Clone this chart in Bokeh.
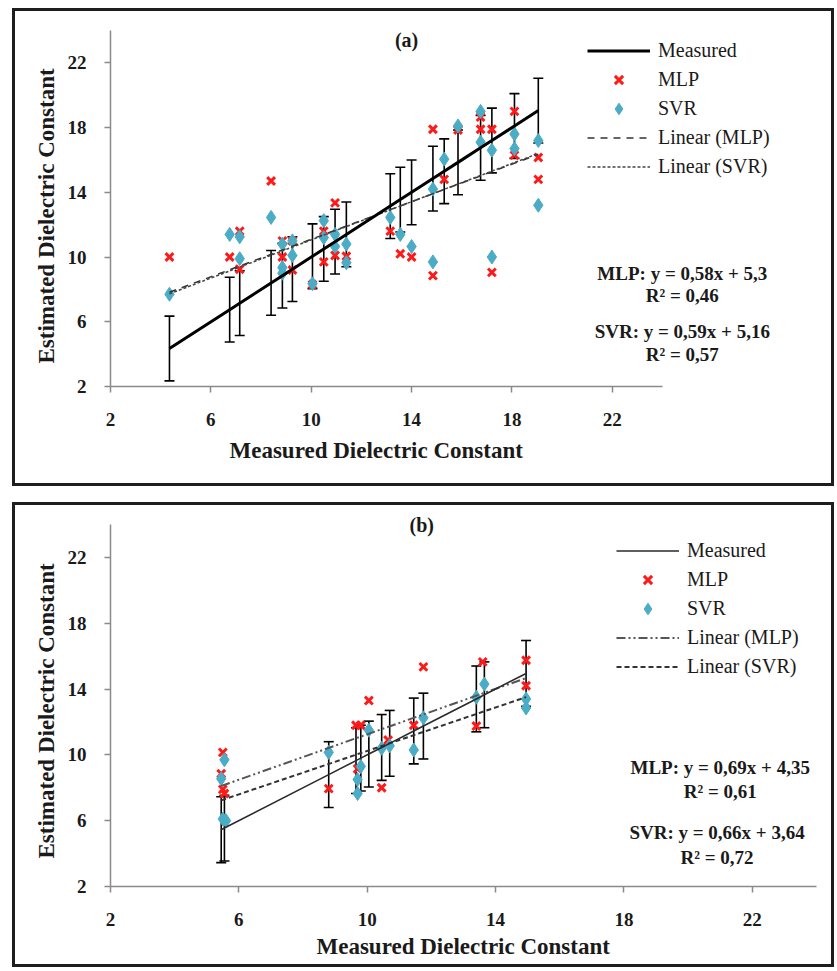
from bokeh.plotting import figure
from bokeh.models import (Range1d, FixedTicker, Whisker, TeeHead, ColumnDataSource,
                          Legend, LegendItem, Label, Spacer, Title)
from bokeh.layouts import column
from bokeh.embed import file_html
from bokeh.resources import INLINE

# ---------------- data ----------------
TICKS = [2, 6, 10, 14, 18, 22]
AXIS_MIN, AXIS_MAX = 2, 24
MEAS_ERR = 2.0
X_LABEL = "Measured Dielectric  Constant"
Y_LABEL = "Estimated Dielectric  Constant"

# panel (a)
A_MEASURED = [4.35, 6.75, 7.15, 8.4, 8.85, 9.25, 10.05, 10.5, 10.95, 11.4,
              13.15, 13.55, 14.0, 14.85, 15.3, 15.85, 16.75, 17.2, 18.1, 19.05]
A_MLP_X = [4.35, 6.75, 7.15, 7.15, 8.4, 8.85, 8.85, 9.25, 9.25, 10.05, 10.5, 10.5,
           10.95, 10.95, 11.4, 13.15, 13.55, 14.0, 14.85, 14.85, 15.3, 15.85,
           16.75, 16.75, 17.2, 17.2, 18.1, 18.1, 19.05, 19.05]
A_MLP_Y = [10.0, 10.0, 11.6, 9.25, 14.7, 11.0, 10.0, 11.0, 9.2, 8.3, 11.6, 9.7,
           13.35, 10.1, 10.05, 11.6, 10.2, 10.0, 17.9, 8.85, 14.8, 17.85,
           18.65, 17.9, 17.9, 9.05, 19.0, 16.3, 16.15, 14.8]
A_SVR_X = [4.35, 6.75, 7.15, 7.15, 8.4, 8.85, 8.85, 8.85, 9.25, 9.25, 10.05, 10.5,
           10.5, 10.95, 10.95, 11.4, 11.4, 13.15, 13.55, 14.0, 14.85, 14.85, 15.3,
           15.85, 16.75, 16.75, 17.2, 17.2, 18.1, 18.1, 19.05, 19.05]
A_SVR_Y = [7.7, 11.4, 11.25, 9.9, 12.45, 10.8, 9.35, 9.0, 11.0, 10.1, 8.35, 12.25,
           11.2, 11.4, 10.65, 10.8, 9.65, 12.45, 11.4, 10.65, 14.2, 9.7, 16.05,
           18.1, 19.0, 17.1, 16.6, 10.0, 17.6, 16.7, 17.2, 13.2]
A_FIT = {"MLP": (0.58, 5.3), "SVR": (0.59, 5.16)}
A_EQ = ["MLP: y = 0,58x + 5,3", "R² = 0,46", "SVR: y = 0,59x + 5,16", "R² = 0,57"]

# panel (b)
B_MEASURED = [5.45, 5.55, 8.8, 9.65, 9.8, 10.05, 10.45, 10.7, 11.45, 11.75,
              13.4, 13.65, 14.95]
B_MLP_X = [5.5, 5.45, 5.5, 5.55, 8.8, 9.65, 9.8, 9.7, 10.05, 10.45, 10.65, 11.45,
           11.75, 13.4, 13.6, 14.95, 14.95]
B_MLP_Y = [10.15, 8.85, 7.9, 7.65, 7.95, 11.8, 11.8, 9.15, 13.3, 8.0, 10.9, 11.8,
           15.35, 11.75, 15.65, 15.75, 14.2]
B_SVR_X = [5.55, 5.45, 5.5, 5.6, 8.8, 9.7, 9.7, 9.8, 10.05, 10.45, 10.7, 11.45,
           11.75, 13.4, 13.65, 14.95, 14.95]
B_SVR_Y = [9.7, 8.55, 6.1, 6.0, 10.15, 8.5, 7.65, 9.3, 11.5, 10.4, 10.55, 10.3,
           12.25, 13.5, 14.3, 13.4, 12.85]
B_FIT = {"MLP": (0.69, 4.35), "SVR": (0.66, 3.64)}
B_EQ = ["MLP: y = 0,69x + 4,35", "R² = 0,61", "SVR: y = 0,66x + 3,64", "R² = 0,72"]

LEGEND_LABELS = ["Measured", "MLP", "SVR", "Linear (MLP)", "Linear (SVR)"]

FONT = "Liberation Serif"
RED = "#ff1a1a"
CYAN = "#4bacc6"
CANVAS_W = 822


def make_panel(tag, measured, mlp_x, mlp_y, svr_x, svr_y, fit, eq,
               height, borders, axis_px, legend_loc, title_xy, eq_xy,
               xlabel_offset, xlabel_standoff, ylabel_offset):
    bl, br, bt, bb = borders
    frame_w = CANVAS_W - bl - br
    frame_h = height - bt - bb
    span = AXIS_MAX - AXIS_MIN
    x_end = AXIS_MIN + span * frame_w / axis_px[0]
    y_end = AXIS_MIN + span * frame_h / axis_px[1]
    p = figure(width=CANVAS_W, height=height, output_backend="svg", toolbar_location=None,
               x_range=Range1d(AXIS_MIN, x_end), y_range=Range1d(AXIS_MIN, y_end),
               min_border_left=bl, min_border_right=br,
               min_border_top=bt, min_border_bottom=bb)
    p.styles = {"border": "3px solid #1e1e1e", "margin-left": "12px"}
    p.grid.visible = False
    p.outline_line_color = None
    p.background_fill_color = "white"
    p.border_fill_color = "white"
    for ax in (p.xaxis[0], p.yaxis[0]):
        ax.ticker = FixedTicker(ticks=TICKS)
        ax.bounds = (AXIS_MIN, AXIS_MAX)
        ax.axis_line_color = "#8a8a8a"
        ax.axis_line_width = 1.5
        ax.major_tick_line_color = "#8a8a8a"
        ax.major_tick_line_width = 1.5
        ax.major_tick_out = 6
        ax.major_tick_in = 0
        ax.minor_tick_line_color = None
        ax.major_label_text_font = FONT
        ax.major_label_text_font_style = "bold"
        ax.major_label_text_font_size = "19px"
        ax.major_label_text_color = "#1a1a1a"
    p.xaxis[0].major_label_standoff = 20
    p.yaxis[0].major_label_standoff = 18

    # axis titles placed along the axis line (not the whole frame)
    p.add_layout(Title(text=X_LABEL, align="left", offset=xlabel_offset,
                       standoff=xlabel_standoff, text_font=FONT, text_font_style="bold",
                       text_font_size="23px", text_color="#1a1a1a"), "below")
    p.add_layout(Title(text=Y_LABEL, align="left", offset=ylabel_offset,
                       standoff=11, text_font=FONT, text_font_style="bold",
                       text_font_size="23px", text_color="#1a1a1a"), "left")

    # predictions
    r_mlp = p.scatter(mlp_x, mlp_y, marker="x", size=11, line_width=3, line_color=RED)
    r_svr = p.scatter(svr_x, svr_y, marker="diamond", size=14, fill_color=CYAN,
                      line_color=CYAN)

    # linear trend lines over measured range
    xs = [min(measured), max(measured)]
    m1, c1 = fit["MLP"]
    m2, c2 = fit["SVR"]
    if tag == "a":
        r_lm = p.line(xs, [m1 * v + c1 for v in xs], line_color="#333333", line_width=1.5,
                      line_dash="7 6")
        r_ls = p.line(xs, [m2 * v + c2 for v in xs], line_color="#444444", line_width=1.5,
                      line_dash="3 2")
        meas_w, meas_c = 3, "black"
    else:
        r_lm = p.line(xs, [m1 * v + c1 for v in xs], line_color="#555555", line_width=2,
                      line_dash="9 3 2 3 2 3")
        r_ls = p.line(xs, [m2 * v + c2 for v in xs], line_color="#333333", line_width=2,
                      line_dash="5 3")
        meas_w, meas_c = 1.6, "#2a2a2a"

    # measured line with error bars
    r_meas = p.line(measured, measured, line_width=meas_w, line_color=meas_c)
    src = ColumnDataSource(dict(x=measured,
                                lo=[v - MEAS_ERR for v in measured],
                                hi=[v + MEAS_ERR for v in measured]))
    wk = Whisker(source=src, base="x", lower="lo", upper="hi", line_color="black",
                 line_width=1.6,
                 lower_head=TeeHead(size=10, line_width=1.6, line_color="black"),
                 upper_head=TeeHead(size=10, line_width=1.6, line_color="black"))
    p.add_layout(wk)

    legend = Legend(items=[LegendItem(label=LEGEND_LABELS[0], renderers=[r_meas]),
                           LegendItem(label=LEGEND_LABELS[1], renderers=[r_mlp]),
                           LegendItem(label=LEGEND_LABELS[2], renderers=[r_svr]),
                           LegendItem(label=LEGEND_LABELS[3], renderers=[r_lm]),
                           LegendItem(label=LEGEND_LABELS[4], renderers=[r_ls])],
                    location=legend_loc, orientation="vertical",
                    glyph_width=63, glyph_height=29, label_height=29, spacing=0,
                    padding=0, margin=0, label_standoff=8,
                    border_line_color=None, background_fill_alpha=0,
                    label_text_font=FONT, label_text_font_size="20px",
                    label_text_color="#1a1a1a")
    p.add_layout(legend, "center")

    p.add_layout(Label(x=title_xy[0], y=title_xy[1], text="(%s)" % tag,
                       text_align="center", text_baseline="middle",
                       text_font=FONT, text_font_style="bold", text_font_size="20px",
                       text_color="#1a1a1a"))
    for (ex, ey), t in zip(eq_xy, eq):
        p.add_layout(Label(x=ex, y=ey, text=t, text_align="center",
                           text_baseline="middle", text_font=FONT,
                           text_font_style="bold", text_font_size="19px",
                           text_color="#1a1a1a"))
    return p


pa = make_panel("a", A_MEASURED, A_MLP_X, A_MLP_Y, A_SVR_X, A_SVR_Y, A_FIT, A_EQ,
                height=478, borders=(95, 7, 2, 103), axis_px=(552, 356),
                legend_loc=(477, 205), title_xy=(13.8, 23.4),
                eq_xy=[(24.79, 8.98), (24.79, 7.62), (24.79, 5.40), (24.79, 3.98)],
                xlabel_offset=119, xlabel_standoff=14, ylabel_offset=23)
pb = make_panel("b", B_MEASURED, B_MLP_X, B_MLP_Y, B_SVR_X, B_SVR_Y, B_FIT, B_EQ,
                height=465, borders=(95, 7, 2, 84), axis_px=(706, 362),
                legend_loc=(506, 205), title_xy=(11.7, 23.94),
                eq_xy=[(21.0, 9.23), (21.0, 7.78), (20.9, 5.28), (20.9, 3.76)],
                xlabel_offset=206, xlabel_standoff=7, ylabel_offset=28)

layout = column(Spacer(height=8), pa, Spacer(height=16), pb, spacing=0)
open("out.html", "w").write(file_html(layout, INLINE))
